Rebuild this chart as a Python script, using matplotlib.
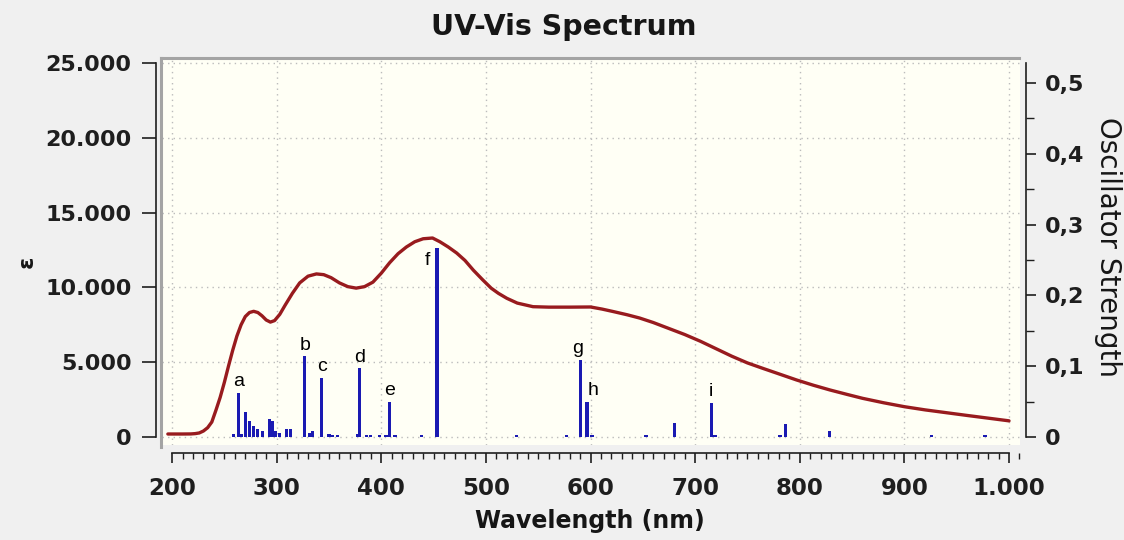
import matplotlib
matplotlib.use("Agg")
import matplotlib.pyplot as plt
from matplotlib.ticker import MultipleLocator, FuncFormatter, FixedLocator
from matplotlib.lines import Line2D

# ---------------- data ----------------
curve_wl = [196, 210, 218, 222, 226, 230, 234, 238, 242, 246, 250, 254, 258, 262, 266, 270, 274, 278,
            282, 286, 290, 294, 298, 303, 308, 315, 322, 330, 338, 345, 352, 360, 368, 376, 384, 392,
            400, 408, 416, 424, 432, 440, 449, 456, 464, 472, 480, 488, 497, 505, 512, 520, 530, 545,
            560, 580, 600, 611, 622, 635, 647, 660, 675, 690, 705, 720, 735, 750, 765, 780, 797, 813,
            829, 845, 860, 880, 900, 920, 940, 960, 980, 1000]
curve_eps = [200, 200, 205, 225, 270, 400, 620, 1000, 1800, 2650, 3650, 4750, 5800, 6750, 7500, 8050,
             8320, 8400, 8320, 8100, 7820, 7680, 7780, 8200, 8800, 9600, 10300, 10750, 10900, 10850,
             10650, 10300, 10050, 9950, 10050, 10350, 10950, 11650, 12250, 12700, 13050, 13250, 13300,
             13050, 12700, 12300, 11800, 11150, 10500, 9950, 9600, 9270, 8950, 8710, 8680, 8680, 8690,
             8550, 8380, 8170, 7950, 7650, 7250, 6850, 6400, 5900, 5400, 4950, 4580, 4220, 3810, 3460,
             3140, 2850, 2585, 2290, 2025, 1810, 1625, 1440, 1260, 1080]

stick_wl = [258.5, 263.4, 266.5, 270.5, 273.9, 277.7, 282.0, 286.5, 293.0, 296.2, 298.6, 302.5,
            309.6, 313.4, 326.8, 331.5, 334.0, 343.2, 350.0, 353.5, 358.0, 377.0, 379.0, 386.0,
            390.0, 398.5, 404.5, 407.5, 413.0, 438.7, 453.3, 529.5, 577.3, 590.5, 596.7, 601.5,
            653.0, 680.2, 715.3, 719.0, 781.0, 786.0, 828.2, 925.6, 977.0]
stick_f = [0.004, 0.062, 0.004, 0.036, 0.023, 0.0155, 0.012, 0.009, 0.025, 0.022, 0.008, 0.005,
           0.011, 0.011, 0.114, 0.006, 0.009, 0.084, 0.004, 0.003, 0.003, 0.004, 0.097, 0.003,
           0.003, 0.003, 0.003, 0.050, 0.003, 0.003, 0.267, 0.003, 0.003, 0.109, 0.050, 0.003,
           0.003, 0.020, 0.048, 0.003, 0.003, 0.018, 0.0085, 0.003, 0.003]

peak_labels = ["a", "b", "c", "d", "e", "f", "g", "h", "i"]
peak_wl = [263.4, 326.8, 343.2, 379.0, 407.5, 453.3, 590.5, 596.7, 715.3]
peak_f = [0.062, 0.114, 0.084, 0.097, 0.050, 0.267, 0.109, 0.050, 0.048]
# label offsets in points (styling)
label_offsets = [(0, 2), (0, 2), (0, 2), (0, 2), (0, 2), (-7, -15), (-2, 2), (4, 2), (0, 2)]

x_ticks = [200, 300, 400, 500, 600, 700, 800, 900, 1000]
y_ticks = [0, 5000, 10000, 15000, 20000, 25000]
f_ticks = [0, 0.1, 0.2, 0.3, 0.4, 0.5]

# ---------------- figure ----------------
plt.rcParams["font.family"] = ["DejaVu Sans"]
plt.rcParams["font.weight"] = "bold"

W, H = 1124, 540
fig = plt.figure(figsize=(W / 100, H / 100), dpi=100, facecolor="#f0f0f0")

def fx(px):
    return px / W

def fy(py):
    return 1 - py / H

ax = fig.add_axes([fx(162), fy(445), (1020 - 162) / W, (445 - 58) / H])
ax.set_facecolor("#fffff5")
ax.set_xlim(190.4, 1010.5)
ax.set_ylim(-535, 25332)

ax.grid(True, which="major", linestyle=(0, (1, 3)), color="#bcbcbc", linewidth=1.0)
ax.set_axisbelow(True)

ax.plot(curve_wl, curve_eps, color="#981b1e", linewidth=2.4, solid_capstyle="round",
        solid_joinstyle="round", zorder=3)

ax.xaxis.set_major_locator(FixedLocator(x_ticks))
ax.xaxis.set_minor_locator(MultipleLocator(10))
ax.yaxis.set_major_locator(FixedLocator(y_ticks))
ax.xaxis.set_major_formatter(FuncFormatter(lambda v, p: f"{int(round(v)):,}".replace(",", ".")))
ax.yaxis.set_major_formatter(FuncFormatter(lambda v, p: f"{int(round(v)):,}".replace(",", ".")))

for s in ("top", "right"):
    ax.spines[s].set_visible(False)
ax.spines["left"].set_position(("outward", 4))
ax.spines["left"].set_bounds(0, 25000)
ax.spines["bottom"].set_position(("outward", 6))
ax.spines["bottom"].set_bounds(200, 1000)
for s in ("left", "bottom"):
    ax.spines[s].set_color("#1e1e1e")
    ax.spines[s].set_linewidth(1.2)

ax.tick_params(axis="y", which="major", direction="out", length=10, width=1.2, pad=8,
               labelsize=16, colors="#1e1e1e")
ax.tick_params(axis="x", which="major", direction="out", length=7, width=1.2, pad=10,
               labelsize=16.5, colors="#1e1e1e")
ax.tick_params(axis="x", which="minor", direction="out", length=4, width=1.0, colors="#1e1e1e")

ax2 = ax.twinx()
ax2.set_ylim(-0.0113, 0.5353)
ax2.bar(stick_wl, stick_f, width=3.1, color="#1a1ab2", linewidth=0, zorder=4)
for s in ("top", "left", "bottom"):
    ax2.spines[s].set_visible(False)
ax2.spines["right"].set_position(("outward", 4))
ax2.spines["right"].set_bounds(0, 0.528)
ax2.spines["right"].set_color("#1e1e1e")
ax2.spines["right"].set_linewidth(1.2)
ax2.yaxis.set_major_locator(FixedLocator(f_ticks))
ax2.yaxis.set_minor_locator(MultipleLocator(0.05))
ax2.yaxis.set_major_formatter(FuncFormatter(lambda v, p: "0" if abs(v) < 1e-9 else f"{v:.1f}".replace(".", ",")))
ax2.tick_params(axis="y", which="major", direction="out", length=7, width=1.2, pad=7,
                labelsize=16, colors="#1e1e1e")
ax2.tick_params(axis="y", which="minor", direction="out", length=6, width=1.0, colors="#1e1e1e")

for lab, x, f, off in zip(peak_labels, peak_wl, peak_f, label_offsets):
    ax2.annotate(lab, (x, f), xytext=off, textcoords="offset points", ha="center", va="bottom",
                 fontsize=14, fontweight="normal", family=["Liberation Sans", "DejaVu Sans"],
                 color="black", zorder=6)

# panel border (grey, top & left)
fig.add_artist(Line2D([fx(161), fx(161)], [fy(447), fy(57.5)], color="#a4a4a4", linewidth=2.2,
                      transform=fig.transFigure))
fig.add_artist(Line2D([fx(161), fx(1019)], [fy(57.5), fy(57.5)], color="#a4a4a4", linewidth=2.2,
                      transform=fig.transFigure))

fig.text(fx(564), fy(27), "UV-Vis Spectrum", ha="center", va="center", fontsize=20.5, fontweight="bold",
         color="#161616")
fig.text(fx(590), fy(521), "Wavelength (nm)", ha="center", va="center", fontsize=17, fontweight="bold",
         color="#161616")
fig.text(fx(27), fy(262), "ε", ha="center", va="center", rotation=90, fontsize=16, fontweight="bold",
         color="#161616")
fig.text(fx(1108), fy(247), "Oscillator Strength", ha="center", va="center", rotation=270,
         fontsize=20, fontweight="normal", color="#161616")

fig.savefig("out.png", dpi=100, facecolor=fig.get_facecolor())
